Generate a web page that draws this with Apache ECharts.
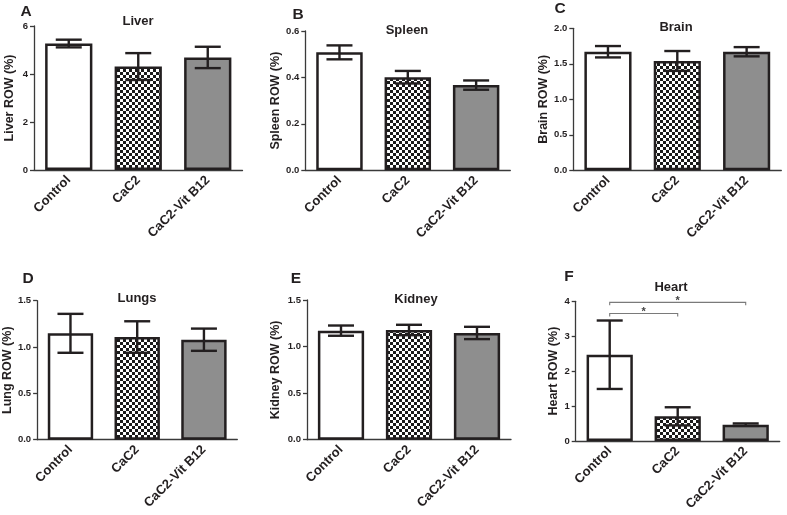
<!DOCTYPE html>
<html>
<head>
<meta charset="utf-8">
<script src="https://cdn.jsdelivr.net/npm/echarts@6/dist/echarts.min.js"></script>
<style>
html,body{margin:0;padding:0;background:#fff;}
#chart{width:787px;height:515px;}
</style>
</head>
<body>
<div id="chart"></div>
<script>
// ---------- data ----------
const categories = ['Control', 'CaC2', 'CaC2-Vit B12'];

const liverMean  = [5.27, 4.31, 4.69];
const liverSem   = [0.16, 0.56, 0.445];
const spleenMean = [0.508, 0.401, 0.367];
const spleenSem  = [0.030, 0.027, 0.020];
const brainMean  = [1.67, 1.54, 1.67];
const brainSem   = [0.08, 0.14, 0.065];
const lungMean   = [1.148, 1.108, 1.079];
const lungSem    = [0.21, 0.17, 0.12];
const kidneyMean = [1.171, 1.178, 1.146];
const kidneySem  = [0.055, 0.056, 0.066];
const heartMean  = [2.47, 0.706, 0.468];
const heartSem   = [0.98, 0.26, 0.035];

const panelLetters = ['A', 'B', 'C', 'D', 'E', 'F'];
const panelTitles  = ['Liver', 'Spleen', 'Brain', 'Lungs', 'Kidney', 'Heart'];
const yNames = ['Liver ROW (%)', 'Spleen ROW (%)', 'Brain ROW (%)', 'Lung ROW (%)', 'Kidney ROW (%)', 'Heart ROW (%)'];
const yMax      = [6, 0.6, 2.0, 1.5, 1.5, 4];
const yInterval = [2, 0.2, 0.5, 0.5, 0.5, 1];
const yDecimals = [0, 1, 1, 1, 1, 0];

// significance brackets for Heart: [fromX, toX, y, label]
const heartBrackets = [
  [-0.01, 1.70, 3.97, '*'],
  [-0.01, 0.92, 3.65, '*']
];

const means = [liverMean, spleenMean, brainMean, lungMean, kidneyMean, heartMean];
const sems  = [liverSem, spleenSem, brainSem, lungSem, kidneySem, heartSem];

// ---------- layout ----------
const grids = [
  {left: 34,    top: 26,    width: 208.5, height: 144},
  {left: 305.3, top: 31,    width: 205,   height: 139.3},
  {left: 573.3, top: 28.3,  width: 208,   height: 142},
  {left: 34.3,  top: 300.7, width: 203,   height: 139},
  {left: 307,   top: 300,   width: 204,   height: 139.7},
  {left: 575.7, top: 301.3, width: 204,   height: 139.7}
];
const nameGaps = [18, 21.5, 23.3, 21.5, 25, 15.7];
const titlePos = [[138, 21], [407, 30], [676, 27], [137, 298], [416, 299], [671, 287]];
const letterPos = [[26, 12], [298, 15], [560, 9], [28, 279], [296, 279], [569, 277]];

const FONT = '"Liberation Sans", Arial, Helvetica, sans-serif';
const INK = '#231f20';
const AXIS = '#3a3a3a';

// checkerboard pattern
const cv = document.createElement('canvas');
cv.width = 6; cv.height = 6;
const cx = cv.getContext('2d');
cx.fillStyle = '#ffffff'; cx.fillRect(0, 0, 6, 6);
cx.fillStyle = '#1a1a1a'; cx.fillRect(0, 0, 3, 3); cx.fillRect(3, 3, 3, 3);
const fills = ['#ffffff', {image: cv, repeat: 'repeat'}, '#8e8e8e'];

const option = {
  animation: false,
  backgroundColor: '#ffffff',
  textStyle: {fontFamily: FONT},
  grid: [], xAxis: [], yAxis: [], series: [], graphic: []
};

for (let p = 0; p < 6; p++) {
  option.grid.push(Object.assign({containLabel: false}, grids[p]));
  option.xAxis.push({
    type: 'category', gridIndex: p, data: categories,
    axisLine: {lineStyle: {color: AXIS, width: 1.3}},
    axisTick: {show: false},
    axisLabel: {rotate: 45, margin: 8, fontSize: 13, fontWeight: 'bold', color: INK, fontFamily: FONT, interval: 0},
    splitLine: {show: false}
  });
  const dec = yDecimals[p];
  option.yAxis.push({
    type: 'value', gridIndex: p, min: 0, max: yMax[p], interval: yInterval[p],
    name: yNames[p], nameLocation: 'middle', nameGap: nameGaps[p],
    nameTextStyle: {fontSize: 12.5, fontWeight: 'bold', color: INK, fontFamily: FONT},
    axisLine: {show: true, lineStyle: {color: AXIS, width: 1.3}},
    axisTick: {show: true, length: 4, lineStyle: {color: AXIS, width: 1.3}},
    axisLabel: {fontSize: 9.5, fontWeight: 'bold', color: INK, margin: 6, fontFamily: FONT,
      formatter: v => Number(v).toFixed(dec)},
    splitLine: {show: false}
  });
  option.series.push({
    type: 'bar', xAxisIndex: p, yAxisIndex: p, barWidth: '68%',
    data: means[p].map((v, i) => ({value: v, itemStyle: {color: fills[i]}})),
    itemStyle: {borderColor: INK, borderWidth: 2.5},
    z: 2
  });
  option.series.push({
    type: 'custom', xAxisIndex: p, yAxisIndex: p, z: 5,
    data: means[p].map((v, i) => [i, v, sems[p][i]]),
    renderItem: function (params, api) {
      const i = api.value(0), m = api.value(1), s = api.value(2);
      const top = api.coord([i, m + s]);
      const bot = api.coord([i, m - s]);
      const hw = 13;
      const st = {stroke: INK, lineWidth: 2.4, fill: null};
      return {type: 'group', children: [
        {type: 'line', shape: {x1: top[0], y1: top[1], x2: bot[0], y2: bot[1]}, style: st},
        {type: 'line', shape: {x1: top[0] - hw, y1: top[1], x2: top[0] + hw, y2: top[1]}, style: st},
        {type: 'line', shape: {x1: bot[0] - hw, y1: bot[1], x2: bot[0] + hw, y2: bot[1]}, style: st}
      ]};
    }
  });
  option.graphic.push({
    type: 'text', x: titlePos[p][0], y: titlePos[p][1],
    style: {text: panelTitles[p], font: 'bold 13px ' + FONT, fill: INK, align: 'center', verticalAlign: 'middle'}
  });
  option.graphic.push({
    type: 'text', x: letterPos[p][0], y: letterPos[p][1],
    style: {text: panelLetters[p], font: 'bold 15.5px ' + FONT, fill: INK, align: 'center', verticalAlign: 'middle'}
  });
}

// heart significance brackets
option.series.push({
  type: 'custom', xAxisIndex: 5, yAxisIndex: 5, z: 6,
  data: heartBrackets,
  renderItem: function (params, api) {
    const a = api.coord([api.value(0), api.value(2)]);
    const b = api.coord([api.value(1), api.value(2)]);
    const drop = 3;
    return {type: 'group', children: [
      {type: 'polyline', shape: {points: [[a[0], a[1] + drop], [a[0], a[1]], [b[0], a[1]], [b[0], b[1] + drop]]},
        style: {stroke: '#7a7a7a', lineWidth: 1.1, fill: null}},
      {type: 'text', x: (a[0] + b[0]) / 2, y: a[1] + 4,
        style: {text: api.value(3), font: 'bold 11px ' + FONT, fill: '#444', align: 'center', verticalAlign: 'bottom'}}
    ]};
  }
});

const chart = echarts.init(document.getElementById('chart'), null, {renderer: 'canvas'});
chart.setOption(option);
</script>
</body>
</html>
